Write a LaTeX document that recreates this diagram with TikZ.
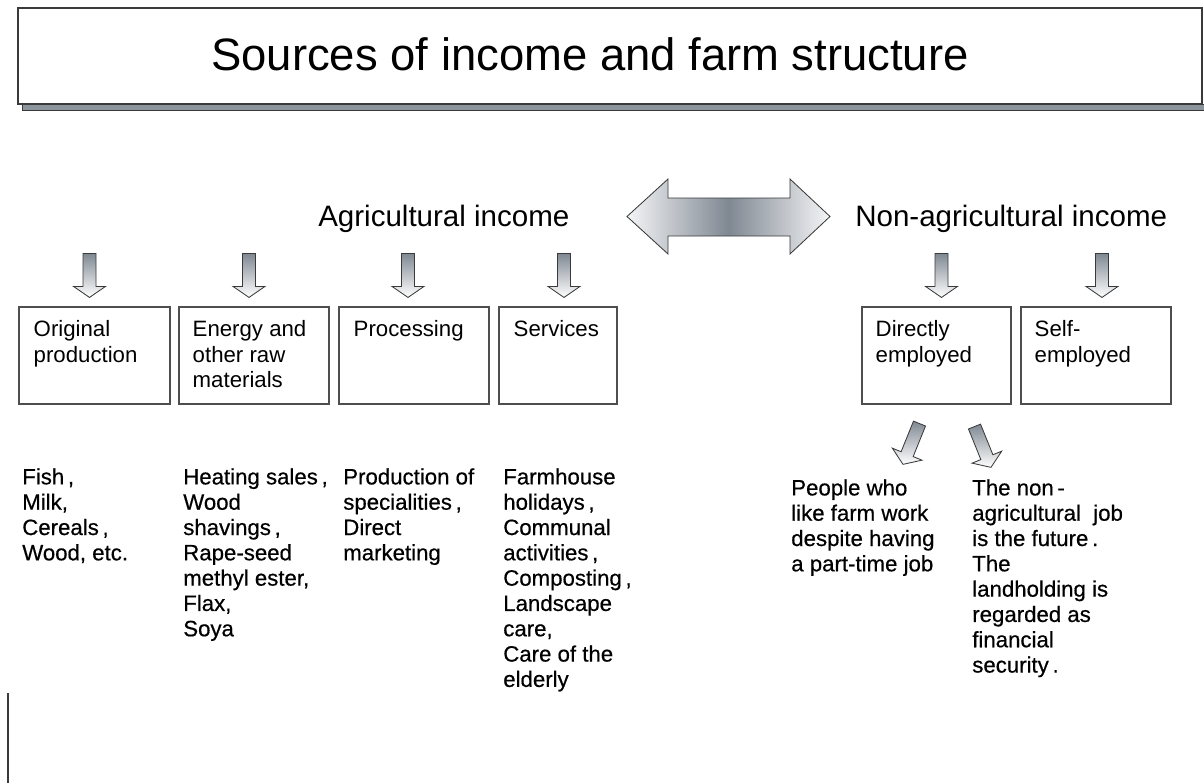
\documentclass[tikz,border=0pt]{standalone}
\usepackage{fontspec}
\setmainfont{Liberation Sans}
\newfontfamily\listfont{Liberation Sans}[FakeBold=0.5]
\usetikzlibrary{positioning, calc, fit}
\definecolor{inkGray}{HTML}{3A3A3A}
\definecolor{boxGray}{HTML}{4E4E4E}
\definecolor{shadeDark}{HTML}{7F8892}
\definecolor{shadeLight}{HTML}{F5F5F7}
\definecolor{shadowGray}{HTML}{8C949C}

\tikzset{
  srcbox/.style={draw=boxGray, line width=0.8pt, inner sep=0pt},
  boxtext/.style={anchor=north west, inner sep=0pt, align=left,
                  font=\fontsize{15.8}{18}\selectfont},
  listtext/.style={boxtext, font=\listfont\fontsize{15.8}{18}\selectfont},
  heading/.style={anchor=base west, inner sep=0pt, font=\fontsize{21}{25}\selectfont},
  pics/downarrow/.style={code={
    \draw[top color=shadeDark, bottom color=white, draw=inkGray, line width=0.6pt]
      (-6.5,0) -- (6.5,0) -- (6.5,33) -- (16,33) -- (0,44) -- (-16,33) -- (-6.5,33) -- cycle;
  }}
}

\begin{document}
\begin{tikzpicture}[x=0.025cm, y=-0.025cm]
  \useasboundingbox (0,0) rectangle (1204,783);

  % title with its shadow strip
  \fill[shadowGray, draw=inkGray, line width=0.5pt] (22,104) rectangle (1204,110);
  \node[draw=inkGray, fill=white, line width=1pt, inner sep=0pt, fit={(18,8) (1202,104)}] (title) {};
  \node[font=\fontsize{32.3}{38}\selectfont, inner sep=0pt] (titletext) at (590,54)
    {Sources of income and farm structure};

  % the two kinds of income, double arrow between them
  \node[heading] (agri) at (318,226) {Agricultural income};
  \node[heading] (nonagri) at (855,226) {Non-agricultural income};
  \draw[left color=shadeLight, right color=shadeLight, middle color=shadeDark,
        draw=inkGray, line width=0.6pt]
    (627,216.5) -- (668,179) -- (668,198) -- (790,198) -- (790,179) -- (830,216.5)
    -- (790,254) -- (790,236) -- (668,236) -- (668,254) -- cycle;

  % boxes
  \node[srcbox, fit={(19,307) (170,404)}] (orig) {};
  \node[srcbox, fit={(179,307) (329,404)}] (energy) {};
  \node[srcbox, fit={(339,307) (489,404)}] (proc) {};
  \node[srcbox, fit={(499,307) (617,404)}] (serv) {};
  \node[srcbox, fit={(862,307) (1011,404)}] (direct) {};
  \node[srcbox, fit={(1021,307) (1171,404)}] (self) {};

  \node[boxtext] (origlbl) at ($(orig.north west)+(15,14)$) {Original\\production};
  \node[boxtext] (energylbl) at ($(energy.north west)+(14,14)$) {Energy and\\other raw\\materials};
  \node[boxtext] (proclbl) at ($(proc.north west)+(15,14)$) {Processing};
  \node[boxtext] (servlbl) at ($(serv.north west)+(15,14)$) {Services};
  \node[boxtext] (directlbl) at ($(direct.north west)+(14,14)$) {Directly\\employed};
  \node[boxtext] (selflbl) at ($(self.north west)+(14,14)$) {Self-\\employed};

  % block arrows above the boxes
  \pic at ($(orig.north)+(-5,-53)$) {downarrow};
  \pic at ($(energy.north)+(-5,-53)$) {downarrow};
  \pic at ($(proc.north)+(-6,-53)$) {downarrow};
  \pic at ($(serv.north)+(6,-53)$) {downarrow};
  \pic at ($(direct.north)+(5,-53)$) {downarrow};
  \pic at ($(self.north)+(6,-53)$) {downarrow};

  % slanted arrows below "Directly employed"
  \pic[rotate=-22] at ($(direct.south)+(-17,19)$) {downarrow};
  \pic[rotate=22] at ($(direct.south)+(38,22)$) {downarrow};

  % examples
  \node[listtext] (origlist) at (22,468) {Fish\,,\\Milk,\\Cereals\,,\\Wood, etc.};
  \node[listtext] (energylist) at (183,468)
    {Heating sales\,,\\Wood\\shavings\,,\\Rape-seed\\methyl ester,\\Flax,\\Soya};
  \node[listtext] (proclist) at (343,468) {Production of\\specialities\,,\\Direct\\marketing};
  \node[listtext] (servlist) at (503,468)
    {Farmhouse\\holidays\,,\\Communal\\activities\,,\\Composting\,,\\Landscape\\care,\\Care of the\\elderly};
  \node[listtext] (directlist) at (791,479)
    {People who\\like farm work\\despite having\\a part-time job};
  \node[listtext] (selflist) at (972,479)
    {The non\,-\\agricultural\ \ job\\is the future\,.\\The\\landholding is\\regarded as\\financial\\security\,.};

  % stray rule at the lower left
  \draw[inkGray, line width=1.4pt] (8,693) -- (8,783);
\end{tikzpicture}
\end{document}
